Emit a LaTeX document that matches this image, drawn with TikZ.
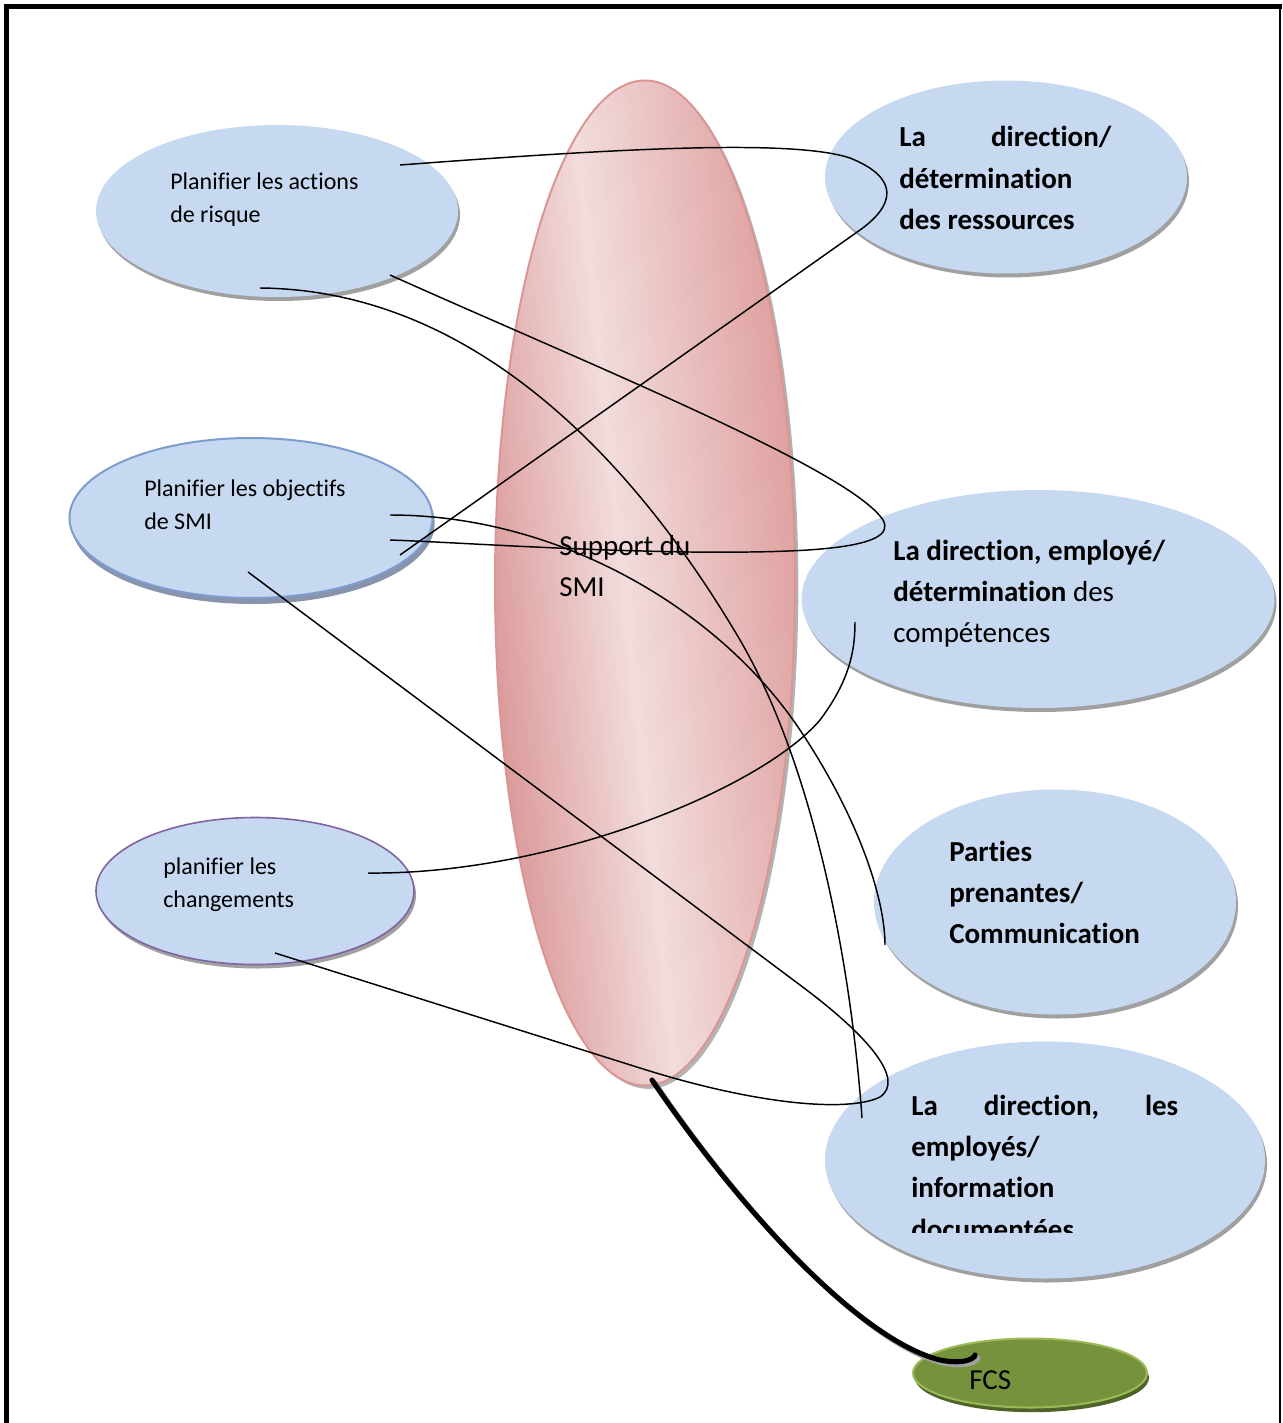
\documentclass[tikz,border=0pt]{standalone}
\usepackage{fontspec}
\setmainfont{Carlito}[Ligatures={NoCommon}]
\usetikzlibrary{shapes.geometric,shadows}

\definecolor{bfill}{RGB}{198,217,241}
\definecolor{shadowgray}{RGB}{160,160,160}
\definecolor{objborder}{RGB}{126,157,206}
\definecolor{objshadow}{RGB}{135,148,171}
\definecolor{chgborder}{RGB}{128,100,162}
\definecolor{pinkborder}{RGB}{217,150,148}
\definecolor{pinkdark}{RGB}{218,150,150}
\definecolor{pinklight}{RGB}{242,220,220}
\definecolor{pinkright}{RGB}{222,158,157}
\definecolor{fcsfill}{RGB}{118,146,60}
\definecolor{fcsborder}{RGB}{155,187,89}
\definecolor{fcsshadow}{RGB}{79,98,40}

% slightly tilted horizontal shading of the central support ellipse
\pgfdeclarehorizontalshading{supportshade}{100bp}{%
  color(0bp)=(pinkdark); color(27bp)=(pinkdark);
  color(47bp)=(pinklight); color(73bp)=(pinkright); color(100bp)=(pinkright)}

\newcommand\lefttext{\fontsize{18}{24.75}\selectfont}
\newcommand\righttext{\fontsize{21.75}{31.1}\selectfont}

\begin{document}
\begin{tikzpicture}[x=0.75pt,y=-0.75pt,
  bubble/.style={ellipse, inner sep=0, fill=bfill,
    drop shadow={shadow xshift=1.5pt, shadow yshift=-3pt, fill=shadowgray, opacity=1}},
  label/.style={anchor=base west, inner sep=0, text=black},
  link/.style={line width=1.1pt, black},
  heavylink/.style={line width=3.8pt, black, line cap=round}]

\useasboundingbox (0,0) rectangle (1282,1423);

% page frame
\draw[line width=3.75pt] (6.7,1423) -- (6.7,6.8) -- (1282,6.8);
\draw[line width=1.5pt] (1279.5,6.8) -- (1279.5,1423);

% central support ellipse
\node[ellipse, inner sep=0, shading=supportshade, shading angle=6, draw=pinkborder, line width=1.5pt,
  minimum width=300*0.75pt, minimum height=1005*0.75pt,
  drop shadow={shadow xshift=2.5pt, shadow yshift=-2.5pt, fill=shadowgray, opacity=0.8}]
  (support) at (645,583) {};
\node[label] (supporttxt) at (559,555)
  {\parbox[t]{150pt}{\righttext Support du\\SMI}};

% planning bubbles on the left
\node[bubble, minimum width=362*0.75pt, minimum height=172*0.75pt] (risk) at (277,211) {};
\node[label] (risktxt) at (170,190)
  {\parbox[t]{200pt}{\lefttext Planifier les actions\\de risque}};

\node[bubble, draw=objborder, line width=1.5pt,
  drop shadow={shadow xshift=1.5pt, shadow yshift=-4.5pt, fill=objshadow, opacity=1},
  minimum width=363*0.75pt, minimum height=160*0.75pt] (obj) at (251,518) {};
\node[label] (objtxt) at (144,496)
  {\parbox[t]{200pt}{\lefttext Planifier les objectifs\\de SMI}};

\node[bubble, draw=chgborder, line width=1.2pt,
  minimum width=318*0.75pt, minimum height=147*0.75pt] (chg) at (255,891) {};
\node[label] (chgtxt) at (163,874)
  {\parbox[t]{200pt}{\lefttext planifier les\\changements}};

% support bubbles on the right
\node[bubble, minimum width=362*0.75pt, minimum height=193*0.75pt] (res) at (1006,177) {};
\node[label] (restxt) at (899,147)
  {\parbox[t]{159pt}{\righttext\bfseries La\hfill direction/\\détermination\\des ressources}};

\node[bubble, minimum width=473*0.75pt, minimum height=218*0.75pt] (comp) at (1038,599) {};
\node[label] (comptxt) at (893,560)
  {\parbox[t]{260pt}{\righttext\textbf{La direction, employé/}\\\textbf{détermination} des\\compétences}};

\node[bubble, minimum width=362*0.75pt, minimum height=225*0.75pt] (comm) at (1055,902) {};
\node[label] (commtxt) at (949,861)
  {\parbox[t]{220pt}{\righttext\bfseries Parties\\prenantes/\\Communication}};

\node[bubble, minimum width=440*0.75pt, minimum height=237*0.75pt] (doc) at (1045,1160) {};
\begin{scope}
  \clip (820,1050) rectangle (1270,1232);
  \node[label] (doctxt) at (911,1115)
    {\parbox[t]{200.25pt}{\righttext\bfseries La\hfill direction,\hfill les\\employés/\\information\\documentées}};
\end{scope}

% FCS
\node[ellipse, inner sep=0, fill=fcsfill, draw=fcsborder, line width=1.5pt,
  drop shadow={shadow xshift=1.5pt, shadow yshift=-3.5pt, fill=fcsshadow, opacity=1},
  minimum width=234*0.75pt, minimum height=69*0.75pt] (fcs) at (1030,1373) {};
\node[label] (fcstxt) at (969,1389) {\righttext FCS};

% connector end points
\coordinate (riskA) at (400,165);
\coordinate (riskB) at (390,275);
\coordinate (riskC) at (260,288);
\coordinate (objA) at (400,555);
\coordinate (objB) at (390,540);
\coordinate (objC) at (390,515);
\coordinate (objD) at (248,572);
\coordinate (chgA) at (368,873);
\coordinate (chgB) at (275,953);
\coordinate (compA) at (855,622);
\coordinate (commA) at (885,945);
\coordinate (docA) at (862,1118);
\coordinate (suppA) at (652,1080);
\coordinate (fcsA) at (975,1355);

% connectors
\draw[link] (riskA) .. controls (600,150) and (790,138) .. (850,158)
  .. controls (900,178) and (895,205) .. (860,230) -- (objA);
\draw[link] (riskB) .. controls (600,369) and (850,470) .. (883,520)
  .. controls (900,550) and (800,553) .. (690,552)
  .. controls (560,550) and (450,542) .. (objB);
\draw[link] (riskC) .. controls (480,290) and (640,470) .. (740,640)
  .. controls (810,760) and (850,950) .. (docA);
\draw[link] (objC) .. controls (560,515) and (720,610) .. (800,730)
  .. controls (860,820) and (885,900) .. (commA);
\draw[link] (objD) -- (800,985) .. controls (870,1037) and (905,1080) .. (880,1097)
  .. controls (850,1112) and (760,1106) .. (640,1068) -- (chgB);
\draw[link] (chgA) .. controls (550,875) and (760,790) .. (820,720)
  .. controls (850,680) and (855,650) .. (compA);

\draw[heavylink, draw=shadowgray] ([shift={(3,3)}]suppA) .. controls (743,1213) and (863,1343) .. (943,1363)
  .. controls (968,1368) and (978,1361) .. ([shift={(3,3)}]fcsA);
\draw[heavylink] (suppA) .. controls (740,1210) and (860,1340) .. (940,1360)
  .. controls (965,1365) and (975,1358) .. (fcsA);

\end{tikzpicture}
\end{document}
